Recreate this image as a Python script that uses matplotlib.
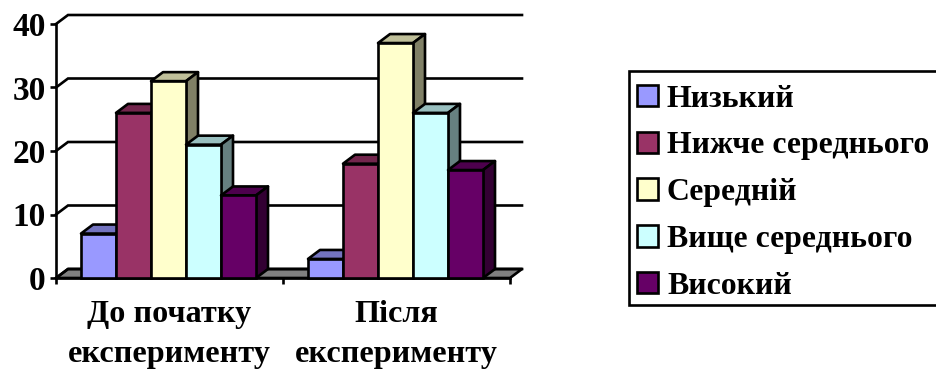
import matplotlib
matplotlib.use("Agg")
import matplotlib.pyplot as plt
from matplotlib.patches import Patch, Polygon, Rectangle

plt.rcParams['font.family'] = ['Liberation Serif', 'DejaVu Serif']
plt.rcParams['font.weight'] = 'bold'

categories = ["До початку\nексперименту", "Після\nексперименту"]
levels = ["Низький", "Нижче середнього", "Середній", "Вище середнього", "Високий"]
before = [7, 26, 31, 21, 13]
after = [3, 18, 37, 26, 17]
colors = ["#9999FF", "#993366", "#FFFFCC", "#CCFFFF", "#660066"]
y_ticks = [0, 10, 20, 30, 40]

W, H = 937, 369
fig = plt.figure(figsize=(W / 100, H / 100), dpi=100, facecolor="white")
ax = fig.add_axes([56 / W, 1 - 278 / H, (510 - 56) / W, (278 - 24) / H])
ax.set_xlim(0, 2)
ax.set_ylim(0, 40)
ax.patch.set_visible(False)

LW = 1.9
# oblique depth of the pseudo-3D box, in data units
DX = 12 / 227
DY = 9 / 6.35
BAR_W = 35 / 227
GROUP_LEFT = 25 / 227


def shade(hex_color, factor):
    r, g, b = matplotlib.colors.to_rgb(hex_color)
    return (r * factor, g * factor, b * factor)


def face(pts, color, z):
    ax.add_patch(Polygon(pts, closed=True, facecolor=color, edgecolor="black",
                         linewidth=LW, joinstyle="round", clip_on=False, zorder=z))


# floor and back-wall gridlines
face([(0, 0), (DX, DY), (2 + DX, DY), (2, 0)], "#808080", 1)
for t in y_ticks:
    ax.plot([0, DX, 2 + DX], [t, t + DY, t + DY], color="black", lw=LW,
            clip_on=False, zorder=1.5, solid_joinstyle="miter")

# bars, painted left to right so each front face hides its neighbour's side
z = 2
for g, values in enumerate([before, after]):
    for i, (v, c) in enumerate(zip(values, colors)):
        x0 = g + GROUP_LEFT + i * BAR_W
        x1 = x0 + BAR_W
        face([(x0, v), (x0 + DX, v + DY), (x1 + DX, v + DY), (x1, v)], shade(c, 0.75), z)
        face([(x1, 0), (x1 + DX, DY), (x1 + DX, v + DY), (x1, v)], shade(c, 0.5), z)
        ax.bar(x0, v, width=BAR_W, align="edge", color=c, edgecolor="black",
               linewidth=LW, clip_on=False, zorder=z + 0.1)
        z += 0.2

for side in ("top", "right"):
    ax.spines[side].set_visible(False)
for side in ("left", "bottom"):
    ax.spines[side].set_linewidth(LW)
    ax.spines[side].set_zorder(1.6)

ax.set_yticks(y_ticks)
ax.set_xticks([0, 1, 2])
ax.set_xticklabels([])
ax.set_xticks([0.5, 1.5], categories, minor=True)
ax.tick_params(axis="y", length=4.5, width=LW, labelsize=24, pad=3)
ax.tick_params(axis="x", which="major", length=4, width=LW)
ax.tick_params(axis="x", which="minor", length=0, labelsize=23.2, pad=15.5)
for lab in ax.get_xticklabels(minor=True):
    lab.set_linespacing(1.53)

# legend frame is separate so the entries can sit slightly low inside it
fig.add_artist(Rectangle((628.5 / W, 1 - 305 / H), (W + 5 - 628.5) / W, 234 / H,
                         transform=fig.transFigure, facecolor="white",
                         edgecolor="black", linewidth=LW))
handles = [Patch(facecolor=c, edgecolor="black", linewidth=LW) for c in colors]
leg = fig.legend(handles, levels, loc="upper left",
                 bbox_to_anchor=(628.5 / W, 1 - 76 / H), bbox_transform=fig.transFigure,
                 fontsize=22.9, frameon=False, borderpad=0.27, borderaxespad=0,
                 labelspacing=0.56, handlelength=0.66, handleheight=0.66,
                 handletextpad=0.28)
leg.set_zorder(5)

fig.savefig("out.png", dpi=100)
